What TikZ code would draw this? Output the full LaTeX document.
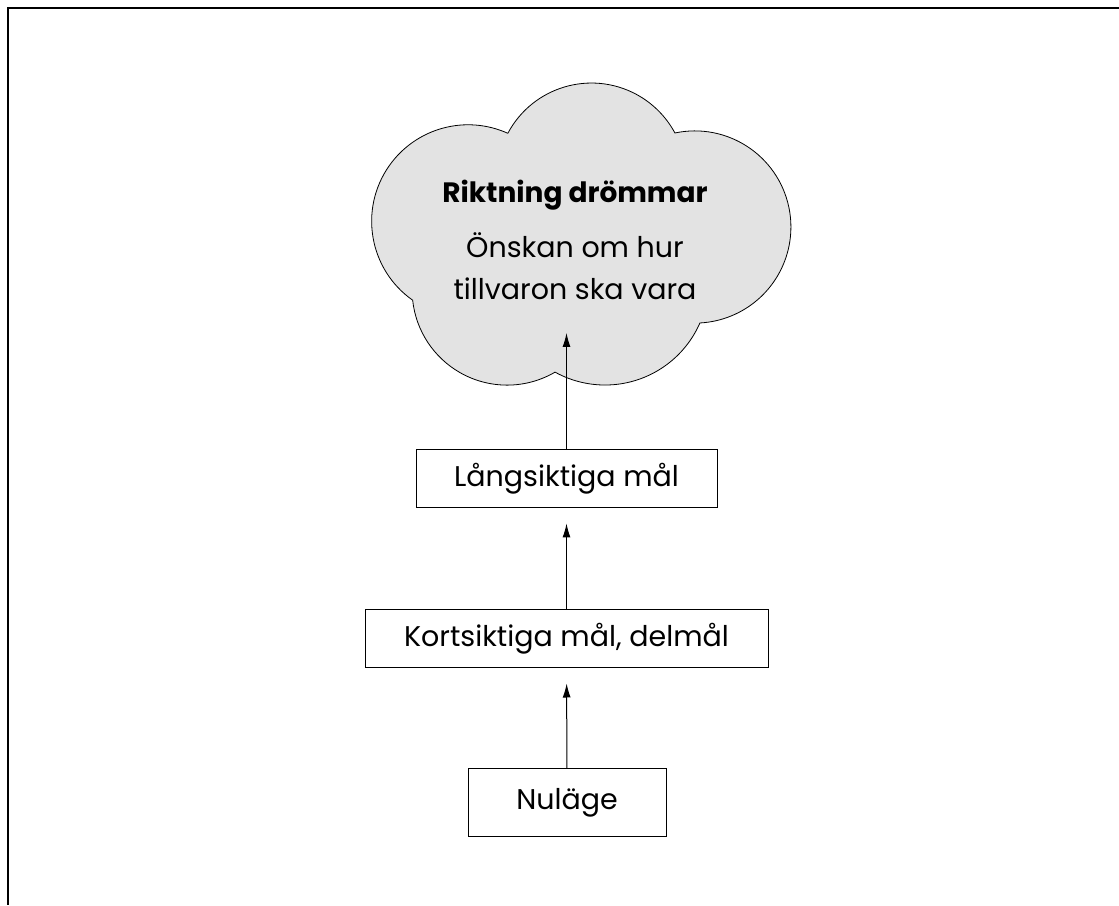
\documentclass[tikz,border=0pt]{standalone}
\usepackage{fontspec}
\setmainfont{Poppins}
\usetikzlibrary{arrows.meta}
\definecolor{cloudgray}{rgb}{0.89,0.89,0.89}

\begin{document}
\begin{tikzpicture}[x=1pt,y=1pt,
	goalbox/.style={draw,line width=1pt,inner sep=0pt,minimum height=58pt,font=\fontsize{28.5}{32}\selectfont},
	cloudtext/.style={anchor=base,inner sep=0pt,font=\fontsize{28.5}{32}\selectfont},
	uparrow/.style={-{Latex[length=14pt,width=8pt]},line width=1pt}]
	\useasboundingbox (0,0) rectangle (1119,905);
	% frame
	\draw[line width=1.2pt] (1119,897) -- (8,897) -- (8,0);
	% cloud
	\draw[fill=cloudgray,line width=0.8pt] (508,772) arc[start angle=151.8,end angle=28.2,radius=94.7]
		arc[start angle=101.95,end angle=-86.96,radius=96.1] arc[start angle=-23.6,end angle=-118.9,radius=103.5]
		arc[start angle=-59.7,end angle=-173.9,radius=95] arc[start angle=234.9,end angle=65.8,radius=96.5] -- cycle;
	\node[cloudtext,font=\fontsize{28}{32}\selectfont\bfseries] (dream) at (575,702) {Riktning drömmar};
	\node[cloudtext] (wish1) at (575,647) {Önskan om hur};
	\node[cloudtext] (wish2) at (575,605) {tillvaron ska vara};
	\coordinate (dreamtip) at (566.5,572);
	% goals
	\node[goalbox,minimum width=301pt] (lang) at (566.5,426) {Långsiktiga mål};
	\node[goalbox,minimum width=403pt] (kort) at (566.5,266) {Kortsiktiga mål, delmål};
	\node[goalbox,minimum width=198pt,minimum height=68pt] (nu) at (567,102) {Nuläge};
	\draw[uparrow,shorten >=15pt] (nu) -- (kort);
	\draw[uparrow,shorten >=15pt] (kort) -- (lang);
	\draw[uparrow] (lang) -- (dreamtip);
\end{tikzpicture}
\end{document}
